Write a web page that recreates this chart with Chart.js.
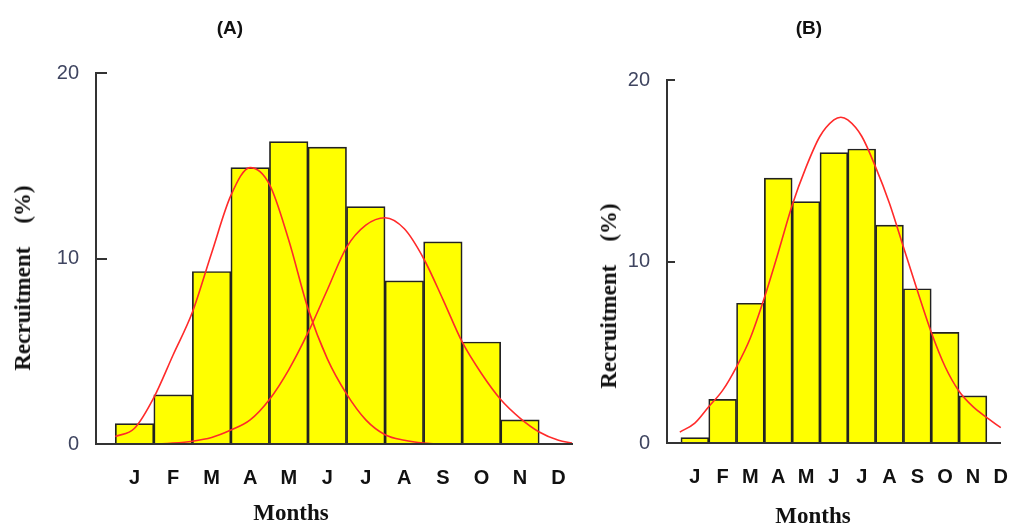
<!DOCTYPE html>
<html><head><meta charset="utf-8">
<script src="https://cdn.jsdelivr.net/npm/chart.js@4.4.1/dist/chart.umd.min.js"></script>
<style>
html,body{margin:0;padding:0;background:#fff}
body{width:1022px;height:525px;position:relative;overflow:hidden}
canvas{position:absolute;top:0}
.t{position:absolute;white-space:pre;color:#111}
.panel{font:bold 19px "Liberation Sans",Arial,sans-serif;width:80px;text-align:center;top:16px;line-height:24px}
.xt{font:bold 23px "Liberation Serif","Times New Roman",serif;width:120px;text-align:center;line-height:26px}
.yt{font:bold 23px "Liberation Serif","Times New Roman",serif;line-height:26px;transform:translate(-50%,-50%) rotate(-90deg)}
</style></head><body>
<canvas id="cA" width="600" height="525" style="left:0"></canvas>
<canvas id="cB" width="432" height="525" style="left:590px"></canvas>
<div class="t panel" style="left:190px">(A)</div>
<div class="t panel" style="left:769px">(B)</div>
<div class="t xt" style="left:231px;top:500px">Months</div>
<div class="t xt" style="left:753px;top:503px">Months</div>
<div class="t yt" style="left:23px;top:278px">Recruitment    (%)</div>
<div class="t yt" style="left:609px;top:296px">Recruitment    (%)</div>
<script>
const months = ['J','F','M','A','M','J','J','A','S','O','N','D'];
const yTicks = [0, 10, 20];

const barsA = [1.1, 2.65, 9.3, 14.9, 16.3, 16.0, 12.8, 8.8, 10.9, 5.5, 1.3];
const barsB = [0.3, 2.4, 7.7, 14.6, 13.3, 16.0, 16.2, 12.0, 8.5, 6.1, 2.6];

const curveAx = [0.5,1,1.5,2,2.5,3,3.5,4,4.5,5,5.5,6,6.5,7,7.5,8,8.5,9,9.5,10,10.5,11,11.5,12,12.35];
const curveA1 = [0.4,0.85,2.5,4.8,7.1,10.3,13.4,14.9,14.0,11.0,7.3,4.6,2.7,1.3,0.5,0.2,0.05,0,0,0,0,0,0,0,0];
const curveA2 = [0,0,0,0.05,0.15,0.35,0.75,1.3,2.4,4.0,6.0,8.3,10.6,11.8,12.2,11.6,10.0,7.8,5.5,3.8,2.4,1.4,0.65,0.2,0.05];

const curveBx = [0.46,1,1.5,2,2.5,3,3.5,4,4.5,5,5.5,6,6.25,6.5,7,7.5,8,8.5,9,9.5,10,10.5,11,11.5,12,12.38];
const curveB  = [0.6,1.1,2.0,2.9,4.2,5.8,8.0,10.5,13.1,15.2,16.9,17.8,17.95,17.8,16.9,15.2,13.2,10.8,8.4,6.1,4.2,2.85,2.0,1.4,0.85,0.55];

const inwardTicks = {
  id: 'inwardTicks',
  afterDraw(chart, args, opts) {
    const y = chart.scales.y, ctx = chart.ctx;
    ctx.save();
    ctx.strokeStyle = '#333';
    ctx.lineWidth = 2;
    y.ticks.forEach(t => {
      if (t.value > 0) {
        const p = Math.round(y.getPixelForValue(t.value));
        ctx.beginPath();
        ctx.moveTo(chart.chartArea.left, p);
        ctx.lineTo(chart.chartArea.left + opts.len, p);
        ctx.stroke();
      }
    });
    ctx.restore();
  }
};

function lineSet(xs, ys) {
  return {
    type: 'line',
    data: xs.map((x, i) => ({x: x, y: ys[i]})),
    borderColor: '#ff2a2a',
    borderWidth: 1.6,
    pointRadius: 0,
    fill: false,
    cubicInterpolationMode: 'monotone',
    clip: false,
    order: 0
  };
}

function makeChart(id, bars, curves, cfg) {
  const datasets = curves.map(c => lineSet(c[0], c[1]));
  datasets.push({
    type: 'bar',
    data: bars.map((v, i) => ({x: i + 1, y: v})),
    backgroundColor: '#ffff00',
    borderColor: '#222222',
    borderWidth: 1.7,
    barPercentage: 1,
    categoryPercentage: 1,
    order: 1
  });
  new Chart(document.getElementById(id), {
    type: 'bar',
    data: {datasets},
    plugins: [inwardTicks],
    options: {
      responsive: false,
      animation: false,
      devicePixelRatio: 1,
      layout: {padding: {top: cfg.top, right: cfg.right, left: 0, bottom: 0}},
      plugins: {legend: {display: false}, tooltip: {enabled: false}, inwardTicks: {len: cfg.tickLen}},
      scales: {
        x: {
          type: 'linear', min: 0, max: cfg.xmax, offset: false,
          grid: {display: false, offset: false},
          border: {display: true, color: '#333', width: 2, z: 1},
          afterBuildTicks: s => { s.ticks = months.map((m, i) => ({value: i + 1})); },
          afterFit: s => { s.height = cfg.xh; },
          ticks: {
            autoSkip: false, maxRotation: 0, minRotation: 0, padding: 14, color: '#111',
            font: {family: '"Liberation Sans", Arial, sans-serif', size: 20, weight: 'bold'},
            callback: v => months[v - 1] || ''
          }
        },
        y: {
          min: 0, max: 20,
          grid: {display: false},
          border: {display: true, color: '#333', width: 2, z: 1},
          afterBuildTicks: s => { s.ticks = yTicks.map(v => ({value: v})); },
          afterFit: s => { s.width = cfg.yw; },
          ticks: {
            padding: 9, color: '#3f4560',
            font: {family: '"Liberation Sans", Arial, sans-serif', size: 20}
          }
        }
      }
    }
  });
}

makeChart('cA', barsA, [[curveAx, curveA1], [curveAx, curveA2]],
  {top: 73, right: 28, xmax: 12.35, xh: 81, yw: 96, tickLen: 11});
makeChart('cB', barsB, [[curveBx, curveB]],
  {top: 80, right: 18, xmax: 12, xh: 82, yw: 77, tickLen: 8});
</script>
</body></html>
